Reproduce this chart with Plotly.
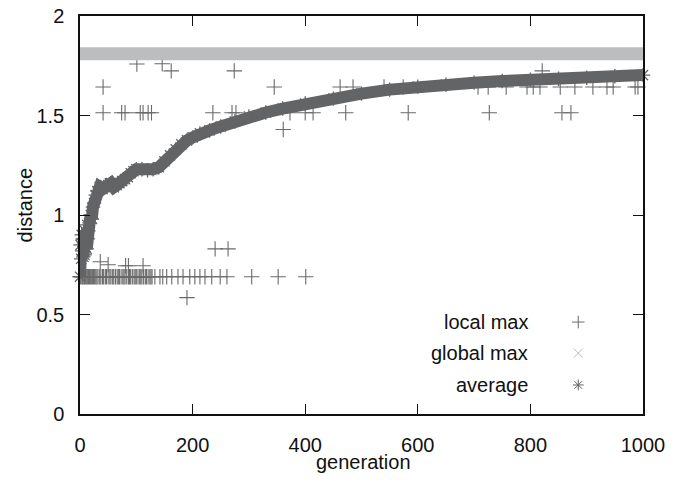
import plotly.graph_objects as go

# ---------------- data ----------------
x_ticks = [0, 200, 400, 600, 800, 1000]
y_ticks = [0, 0.5, 1, 1.5, 2]
y_tick_labels = ["0", "0.5", "1", "1.5", "2"]

# local max (+) points
local_gen = [0, 2, 4, 5, 7, 8, 10, 12, 13, 15, 17, 19, 20, 22, 24, 26, 28, 30, 32, 35,
             37, 40, 42, 45, 47, 50, 53, 55, 58, 60, 63, 66, 68, 70, 73, 76, 78, 80, 83,
             86, 88, 90, 93, 96, 98, 100, 103, 106, 108, 110, 113, 116, 118, 121, 124,
             126, 128, 133, 142, 147, 154, 163, 174, 183, 195, 204, 213, 222, 234, 249,
             261, 305, 352, 401,
             36, 50, 81, 86, 112, 190, 240, 263,
             41, 101, 146, 162, 274, 821,
             41, 74, 80, 107, 112, 121, 127, 236, 270, 277, 373, 400, 414, 472, 583, 727,
             856, 872, 361,
             345, 462, 485, 540, 574, 707, 725, 757, 794, 805, 817, 853, 879, 911,
             936, 947, 986, 991]
local_val = [0.69] * 74 + \
            [0.765, 0.75, 0.745, 0.745, 0.745, 0.585, 0.83, 0.83] + \
            [1.643, 1.759, 1.76, 1.724, 1.724, 1.724] + \
            [1.514] * 18 + [1.43] + \
            [1.643] * 18

# global max (x) band
global_gen = [0, 1000]
global_val = [1.81, 1.81]

# average (*) curve
avg_gen = [0, 1, 2, 3, 4, 5, 6, 7, 8, 9, 10, 11, 12, 13, 14, 15, 17, 19, 21, 23, 25,
           28, 31, 35, 40, 45, 50, 55, 60, 65, 70, 75, 80, 85, 90, 95, 100, 110, 120,
           130, 140, 150, 160, 170, 180, 190, 200, 213, 230, 250, 275, 300, 330, 360,
           400, 450, 500, 550, 600, 650, 700, 750, 800, 850, 900, 950, 1000]
avg_val = [0.69, 0.85, 0.78, 0.9, 0.82, 0.88, 0.79, 0.86, 0.8, 0.92, 0.84, 0.9, 0.83,
           0.95, 0.88, 0.92, 0.96, 1.0, 0.98, 1.04, 1.06, 1.1, 1.12, 1.14, 1.13, 1.15,
           1.15, 1.16, 1.14, 1.15, 1.16, 1.17, 1.18, 1.19, 1.21, 1.22, 1.23, 1.23, 1.225,
           1.23, 1.24, 1.27, 1.3, 1.33, 1.355, 1.375, 1.39, 1.41, 1.425, 1.445, 1.47,
           1.495, 1.515, 1.535, 1.56, 1.585, 1.61, 1.63, 1.645, 1.655, 1.665, 1.673,
           1.68, 1.685, 1.69, 1.697, 1.703]

legend_labels = ["local max", "global max", "average"]
x_title = "generation"
y_title = "distance"

# ---------------- style ----------------
C_LOCAL = "#6a6a6a"
C_GLOBAL = "#bcbdbf"
C_AVG = "#636466"
FONT = "Liberation Sans, Arial, Helvetica, sans-serif"
FS = 20

fig = go.Figure()

fig.add_trace(go.Scatter(
    x=local_gen, y=local_val, mode="markers", name=legend_labels[0],
    marker=dict(symbol="cross-thin-open", size=11, color=C_LOCAL,
                line=dict(width=1.1, color=C_LOCAL)),
    showlegend=False, cliponaxis=False))

fig.add_trace(go.Scatter(
    x=global_gen, y=global_val, mode="lines", name=legend_labels[1],
    line=dict(width=13, color=C_GLOBAL), showlegend=False))

fig.add_trace(go.Scatter(
    x=avg_gen, y=avg_val, mode="lines+markers", name=legend_labels[2],
    line=dict(width=12, color=C_AVG),
    marker=dict(symbol="asterisk-open", size=12, color=C_AVG,
                line=dict(width=1.3, color=C_AVG)),
    showlegend=False, cliponaxis=False))

# custom legend (text left, symbol right, as in the original)
leg_y = [0.231, 0.153, 0.073]
leg_sym = ["cross-thin-open", "x-thin-open", "asterisk-open"]
leg_col = [C_LOCAL, C_GLOBAL, C_AVG]
for lab, yy, sym, col in zip(legend_labels, leg_y, leg_sym, leg_col):
    fig.add_annotation(x=0.799, y=yy, xref="paper", yref="paper", text=lab,
                       showarrow=False, xanchor="right", yanchor="middle",
                       font=dict(family=FONT, size=FS, color="#111"))
    fig.add_trace(go.Scatter(
        x=[0.885], y=[yy], xaxis="x2", yaxis="y2", mode="markers",
        marker=dict(symbol=sym, size=9, color=col, line=dict(width=1, color=col)),
        showlegend=False, hoverinfo="skip"))

# axis titles
fig.add_annotation(x=0.504, y=-0.12, xref="paper", yref="paper", text=x_title,
                   showarrow=False, xanchor="center", yanchor="middle",
                   font=dict(family=FONT, size=FS, color="#111"))
fig.add_annotation(x=-0.097, y=0.525, xref="paper", yref="paper", text=y_title,
                   showarrow=False, xanchor="center", yanchor="middle", textangle=-90,
                   font=dict(family=FONT, size=FS, color="#111"))

axis_common = dict(showgrid=False, zeroline=False, showline=True, linecolor="#111",
                   linewidth=1.5, mirror="ticks", ticks="inside", ticklen=10,
                   tickwidth=1, tickcolor="#111", automargin=False,
                   tickfont=dict(family=FONT, size=FS, color="#111"))

fig.update_layout(
    width=686, height=486,
    margin=dict(l=80, r=43, t=16, b=72),
    paper_bgcolor="white", plot_bgcolor="white",
    showlegend=False,
    xaxis=dict(range=[0, 1000], tickvals=x_ticks, ticklabelstandoff=12,
               **axis_common),
    yaxis=dict(range=[0, 2], tickvals=y_ticks, ticktext=y_tick_labels,
               ticklabelstandoff=10, **axis_common),
    xaxis2=dict(overlaying="x", range=[0, 1], visible=False, anchor="y2"),
    yaxis2=dict(overlaying="y", range=[0, 1], visible=False, anchor="x2"),
)

fig.write_html("out.html", config={"displayModeBar": False},
               post_script="document.body.style.margin='0';document.body.style.padding='0';")
